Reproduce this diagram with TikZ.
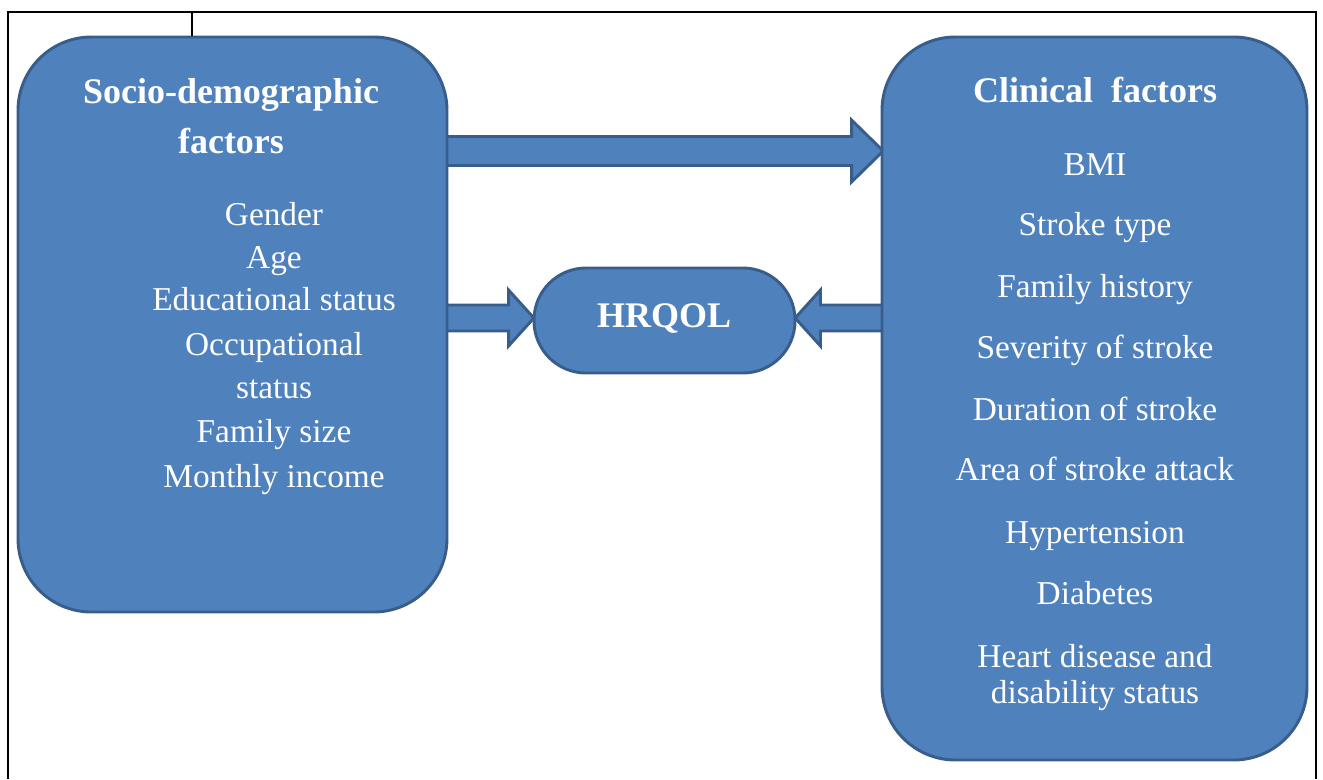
\documentclass[tikz,border=0pt]{standalone}
\usepackage{fontspec}
\setmainfont{Liberation Serif}
\usetikzlibrary{calc}
\definecolor{boxfill}{HTML}{4F81BD}
\definecolor{boxline}{HTML}{385D8A}
\pgfdeclarelayer{bg}
\pgfsetlayers{bg,main}
\begin{document}
\begin{tikzpicture}[x=0.75pt,y=-0.75pt,
  box/.style={draw=boxline, fill=boxfill, line width=2.2pt, inner sep=0pt},
  titletext/.style={text=white, font=\fontsize{27}{32}\selectfont\bfseries, inner sep=0pt, anchor=base},
  itemtext/.style={text=white, font=\fontsize{25}{30}\selectfont, inner sep=0pt, anchor=base},
  blockarrow/.style={draw=boxline, fill=boxfill, line width=2.2pt, line join=miter}]

\useasboundingbox (0,0) rectangle (1323,779);

% outer frame and tick
\coordinate (fbl) at (8,779);
\coordinate (ftl) at (8,12);
\coordinate (ftr) at (1316,12);
\coordinate (fbr) at (1316,779);
\draw[line width=1.5pt] (fbl) -- (ftl) -- (ftr) -- (fbr);

% boxes
\node[box, rounded corners=55pt, minimum width=321.75pt, minimum height=431.25pt] (L) at (232.5,324.5) {};
\node[box, rounded corners=55pt, minimum width=318.75pt, minimum height=542.25pt] (R) at (1094.5,398.5) {};
\node[box, rounded corners=39pt, minimum width=195.75pt, minimum height=78.75pt] (H) at (664.5,320.5) {};

\coordinate (ticktop) at (192,12);
\draw[line width=2.2pt] (ticktop) -- (ticktop |- L.north);

% arrow levels
\coordinate (ya) at (0,151);
\coordinate (yb) at (0,318);

\begin{pgfonlayer}{bg}
  % top arrow L -> R
  \draw[blockarrow]
    ($(L.east |- ya)+(-4pt,10.875pt)$) -- ($(R.west |- ya)+(-21.75pt,10.875pt)$)
    -- ($(R.west |- ya)+(-21.75pt,23.25pt)$) -- ($(R.west |- ya)+(2pt,0pt)$)
    -- ($(R.west |- ya)+(-21.75pt,-23.25pt)$) -- ($(R.west |- ya)+(-21.75pt,-10.875pt)$)
    -- ($(L.east |- ya)+(-4pt,-10.875pt)$) -- cycle;
  % L -> H
  \draw[blockarrow]
    ($(L.east |- yb)+(-4pt,9.75pt)$) -- ($(H.west |- yb)+(-18pt,9.75pt)$)
    -- ($(H.west |- yb)+(-18pt,21pt)$) -- ($(H.west |- yb)+(1pt,0pt)$)
    -- ($(H.west |- yb)+(-18pt,-21pt)$) -- ($(H.west |- yb)+(-18pt,-9.75pt)$)
    -- ($(L.east |- yb)+(-4pt,-9.75pt)$) -- cycle;
  % R -> H
  \draw[blockarrow]
    ($(R.west |- yb)+(4pt,9.75pt)$) -- ($(H.east |- yb)+(18pt,9.75pt)$)
    -- ($(H.east |- yb)+(18pt,21pt)$) -- ($(H.east |- yb)+(-1pt,0pt)$)
    -- ($(H.east |- yb)+(18pt,-21pt)$) -- ($(H.east |- yb)+(18pt,-9.75pt)$)
    -- ($(R.west |- yb)+(4pt,-9.75pt)$) -- cycle;
\end{pgfonlayer}

% HRQOL text
\node[titletext] (htext) at (664,327) {HRQOL};

% left texts
\node[titletext] (lt1) at (231,103) {Socio-demographic};
\node[titletext] (lt2) at (231,153) {factors};
\node[itemtext] (l1) at (274,225) {Gender};
\node[itemtext] (l2) at (274,268) {Age};
\node[itemtext] (l3) at (274,310) {Educational status};
\node[itemtext] (l4) at (274,355) {Occupational};
\node[itemtext] (l5) at (274,398) {status};
\node[itemtext] (l6) at (274,442) {Family size};
\node[itemtext] (l7) at (274,487) {Monthly income};

% right texts
\node[titletext] (rt) at (1095,102) {Clinical\ \ factors};
\node[itemtext] (r1) at (1095,175) {BMI};
\node[itemtext] (r2) at (1095,235) {Stroke type};
\node[itemtext] (r3) at (1095,297) {Family history};
\node[itemtext] (r4) at (1095,358) {Severity of stroke};
\node[itemtext] (r5) at (1095,420) {Duration of stroke};
\node[itemtext] (r6) at (1095,480) {Area of stroke attack};
\node[itemtext] (r7) at (1095,543) {Hypertension};
\node[itemtext] (r8) at (1095,604) {Diabetes};
\node[itemtext] (r9) at (1095,667) {Heart disease and};
\node[itemtext] (r10) at (1095,703) {disability status};
\end{tikzpicture}
\end{document}
